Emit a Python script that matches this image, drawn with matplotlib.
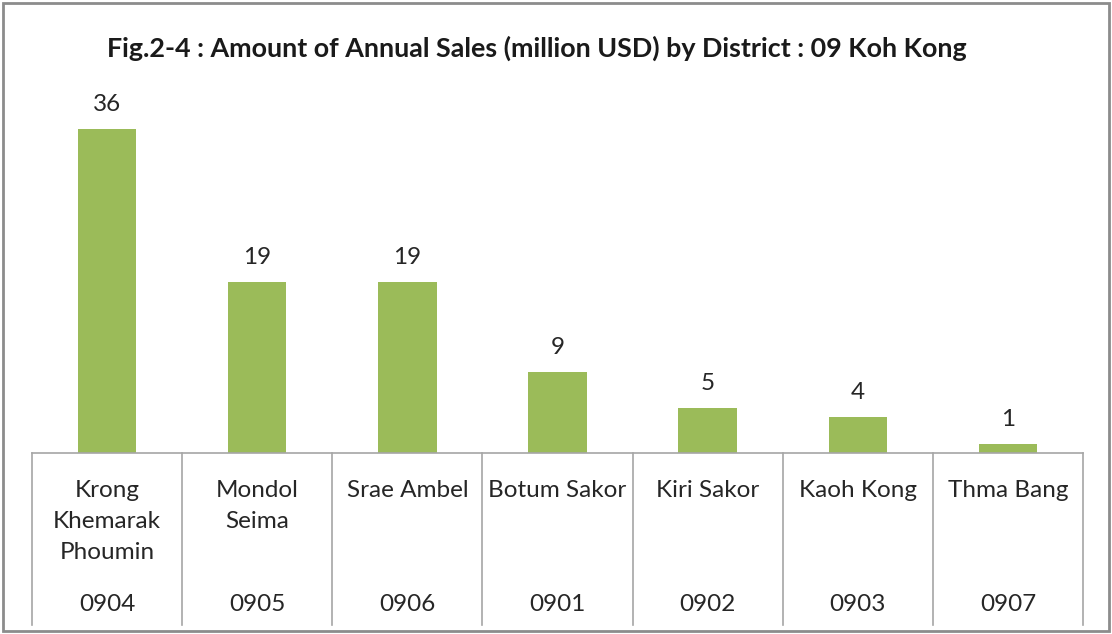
import matplotlib
matplotlib.use('Agg')
import matplotlib.pyplot as plt
import matplotlib.transforms as mtransforms
from matplotlib.patches import Rectangle

# data
districts = ['Krong\nKhemarak\nPhoumin', 'Mondol\nSeima', 'Srae Ambel', 'Botum Sakor',
             'Kiri Sakor', 'Kaoh Kong', 'Thma Bang']
codes = ['0904', '0905', '0906', '0901', '0902', '0903', '0907']
sales = [36, 19, 19, 9, 5, 4, 1]

title = 'Fig.2-4 : Amount of Annual Sales (million USD) by District : 09 Koh Kong'

plt.rcParams['font.family'] = ['Lato', 'DejaVu Sans']

fig = plt.figure(figsize=(11.12, 6.34), dpi=100)
ax = fig.add_axes([32 / 1112, 1 - 453 / 634, 1051 / 1112, 351 / 634])

x = list(range(len(sales)))
ax.bar(x, sales, width=0.39, color='#9BBB59', zorder=2)
for i, v in zip(x, sales):
    ax.text(i, v + 2.7, str(v), ha='center', va='center', fontsize=17.5, color='#262626')

ax.set_xlim(-0.5, len(sales) - 0.5)
ax.set_ylim(0, 39)
for s in ax.spines.values():
    s.set_visible(False)
ax.set_xticks([])
ax.set_yticks([])

# table-like category axis
trans = mtransforms.blended_transform_factory(ax.transData, ax.transAxes)
ax.plot([-0.5, len(sales) - 0.5], [0, 0], transform=trans, color='#A6A6A6', lw=1.2, clip_on=False)
for b in range(len(sales) + 1):
    ax.plot([b - 0.5, b - 0.5], [0, -0.49], transform=trans, color='#A6A6A6', lw=1.2, clip_on=False)
for i, (name, code) in enumerate(zip(districts, codes)):
    ax.text(i, -0.077, name, transform=trans, ha='center', va='top', fontsize=17.5,
            color='#262626', linespacing=1.58)
    ax.text(i, -0.433, code, transform=trans, ha='center', va='center', fontsize=17.5, color='#262626')

fig.text(537 / 1112, 1 - 48 / 634, title, ha='center', va='center', fontsize=19.4,
         fontweight='bold', color='#1a1a1a')

# outer frame
fig.patches.append(Rectangle((3 / 1112, 3 / 634), 1106 / 1112, 628 / 634, transform=fig.transFigure,
                             fill=False, edgecolor='#8C8C8C', lw=2))

fig.savefig('out.png', dpi=100)
